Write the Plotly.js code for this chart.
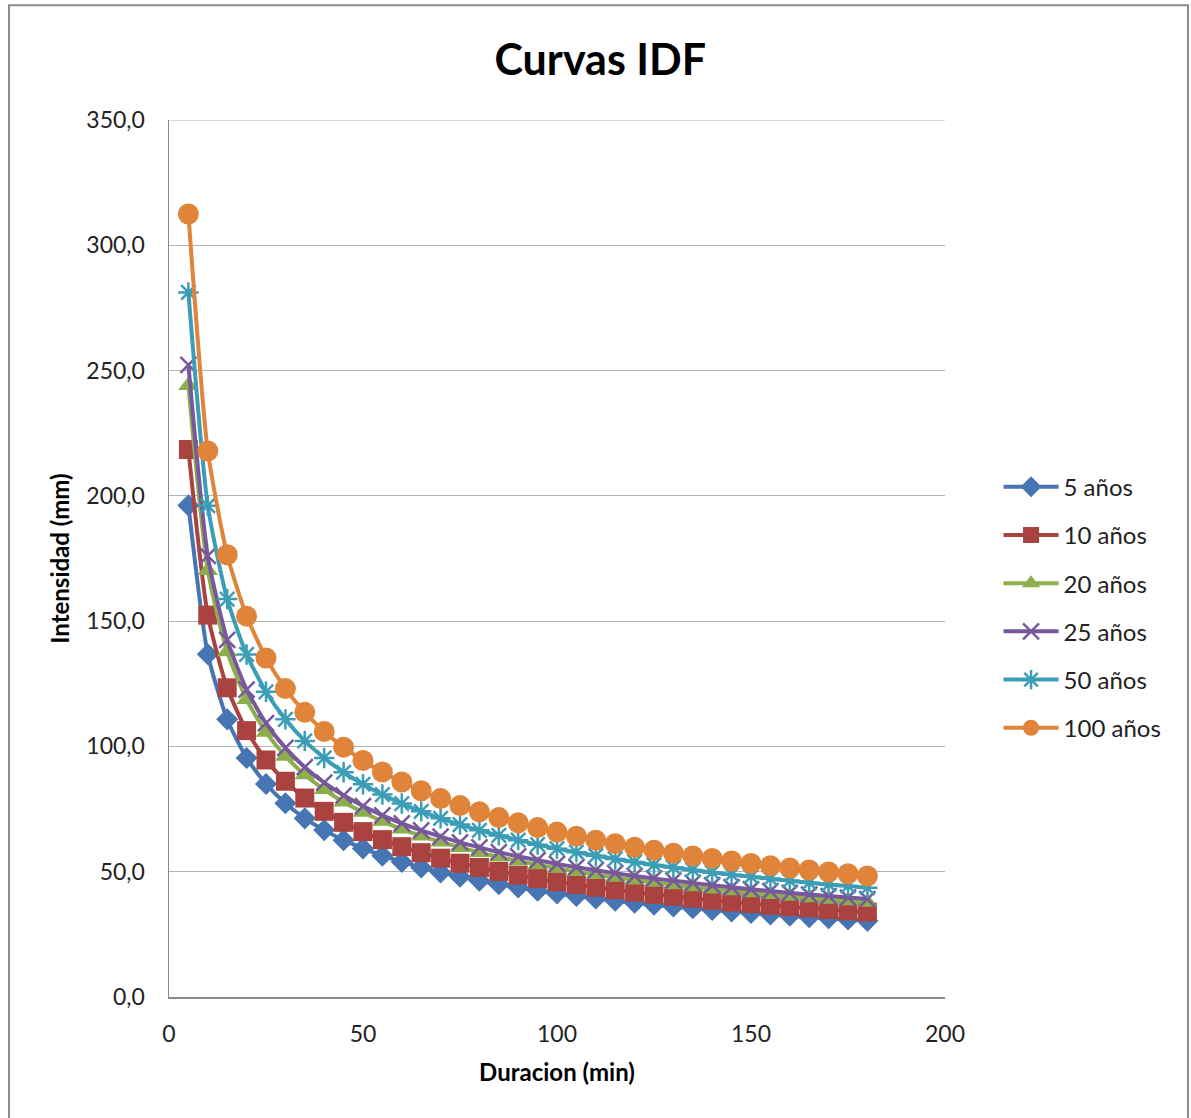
<!DOCTYPE html>
<html><head><meta charset="utf-8">
<script src="https://cdn.plot.ly/plotly-3.0.1.min.js"></script>
<style>html,body{margin:0;padding:0;background:#fff;}#chart{width:1191px;height:1118px;}</style>
</head><body><div id="chart"></div>
<script>
const duracion = [5,10,15,20,25,30,35,40,45,50,55,60,65,70,75,80,85,90,95,100,105,110,115,120,125,130,135,140,145,150,155,160,165,170,175,180];
const seriesNames = ["5 años","10 años","20 años","25 años","50 años","100 años"];
const t5 = [196.2,136.8,110.8,95.4,85.0,77.3,71.3,66.6,62.6,59.3,56.4,53.9,51.7,49.7,48.0,46.4,45.0,43.7,42.4,41.3,40.3,39.3,38.4,37.6,36.8,36.1,35.4,34.7,34.1,33.5,32.9,32.4,31.8,31.4,30.9,30.4];
const t10 = [218.5,152.4,123.4,106.3,94.6,86.1,79.4,74.1,69.7,66.0,62.8,60.0,57.6,55.4,53.4,51.7,50.1,48.6,47.3,46.0,44.9,43.8,42.8,41.8,41.0,40.2,39.4,38.6,37.9,37.3,36.6,36.0,35.5,34.9,34.4,33.9];
const t20 = [244.0,170.2,137.8,118.7,105.7,96.1,88.7,82.8,77.8,73.7,70.1,67.0,64.3,61.9,59.7,57.7,55.9,54.3,52.8,51.4,50.1,48.9,47.8,46.7,45.8,44.8,44.0,43.1,42.4,41.6,40.9,40.2,39.6,39.0,38.4,37.8];
const t25 = [252.3,176.0,142.5,122.7,109.3,99.4,91.7,85.6,80.5,76.2,72.5,69.3,66.5,64.0,61.7,59.7,57.8,56.1,54.6,53.1,51.8,50.6,49.4,48.3,47.3,46.4,45.5,44.6,43.8,43.0,42.3,41.6,40.9,40.3,39.7,39.1];
const t50 = [281.2,196.1,158.8,136.7,121.8,110.8,102.2,95.4,89.7,84.9,80.8,77.2,74.1,71.3,68.8,66.5,64.5,62.6,60.8,59.2,57.8,56.4,55.1,53.9,52.7,51.7,50.7,49.7,48.8,48.0,47.2,46.4,45.6,44.9,44.3,43.6];
const t100 = [312.5,217.9,176.5,152.0,135.3,123.1,113.6,106.0,99.7,94.4,89.8,85.8,82.3,79.2,76.4,73.9,71.6,69.5,67.6,65.8,64.2,62.6,61.2,59.8,58.6,57.4,56.3,55.3,54.3,53.3,52.4,51.5,50.7,49.9,49.2,48.3];

const allY = [t5,t10,t20,t25,t50,t100];
const colors = ["#4675B3","#AA4240","#8CAF4B","#77589D","#3C9DB7","#E0843A"];
const symbols = ["diamond","square","triangle-up","x-thin-open","asterisk-open","circle"];
const sizes = [17,19,18,16,17,21];

const traces = allY.map((y,i)=>({
  x: duracion, y: y, name: seriesNames[i], type:'scatter', mode:'lines+markers',
  legendgroup: 'g'+i,
  line:{color:colors[i], width:4, shape:'spline', smoothing:0.6},
  marker:{symbol:symbols[i], size:sizes[i], color:colors[i],
          line:{color:colors[i], width:(i===3||i===4)?2.5:0}}
}));

const fontF = "Lato, 'Open Sans', sans-serif";
const layout = {
  width:1191, height:1118,
  margin:{l:169, r:246, t:120, b:121},
  paper_bgcolor:'#fff', plot_bgcolor:'#fff',
  separators:',.',
  font:{family:fontF, color:'#222', size:20},
  title:{text:'<b>Curvas IDF</b>', font:{family:fontF, size:43, color:'#000'}, x:0.504, xanchor:'center', y:0.946, yanchor:'middle'},
  xaxis:{range:[0,200], dtick:50, tick0:0, showgrid:false, zeroline:false, showline:true, linecolor:'#8a8a8a', linewidth:1.5,
         ticks:'', ticklabelstandoff:16, tickfont:{size:23, color:'#222'},
         title:{text:'<b>Duracion (min)</b>', font:{size:24, color:'#000'}, standoff:18}},
  yaxis:{range:[0,350], dtick:50, tick0:0, tickformat:'.1f', showgrid:true, gridcolor:'#b3b3b3', gridwidth:1.2,
         zeroline:false, showline:true, linecolor:'#8a8a8a', linewidth:1.5, ticks:'', ticklabelstandoff:18,
         tickfont:{size:23, color:'#222'},
         title:{text:'<b>Intensidad (mm)</b>', font:{size:24, color:'#000'}, standoff:10}},
  legend:{x:1.069, xanchor:'left', y:0.607, yanchor:'top', font:{size:24, color:'#222'}, itemwidth:55, tracegroupgap:14, bgcolor:'rgba(0,0,0,0)'},
  shapes:[
    {type:'rect', xref:'paper', yref:'paper', x0:-0.2062, x1:1.3131, y0:-0.16, y1:1.1308, line:{color:'#8c8c8c', width:2}, layer:'below'},
    {type:'line', xref:'paper', yref:'y', x0:0, x1:1, y0:350, y1:350, line:{color:'#b3b3b3', width:1.2}, layer:'below'}
  ]
};
Plotly.newPlot('chart', traces, layout, {displayModeBar:false, staticPlot:true});
</script></body></html>
